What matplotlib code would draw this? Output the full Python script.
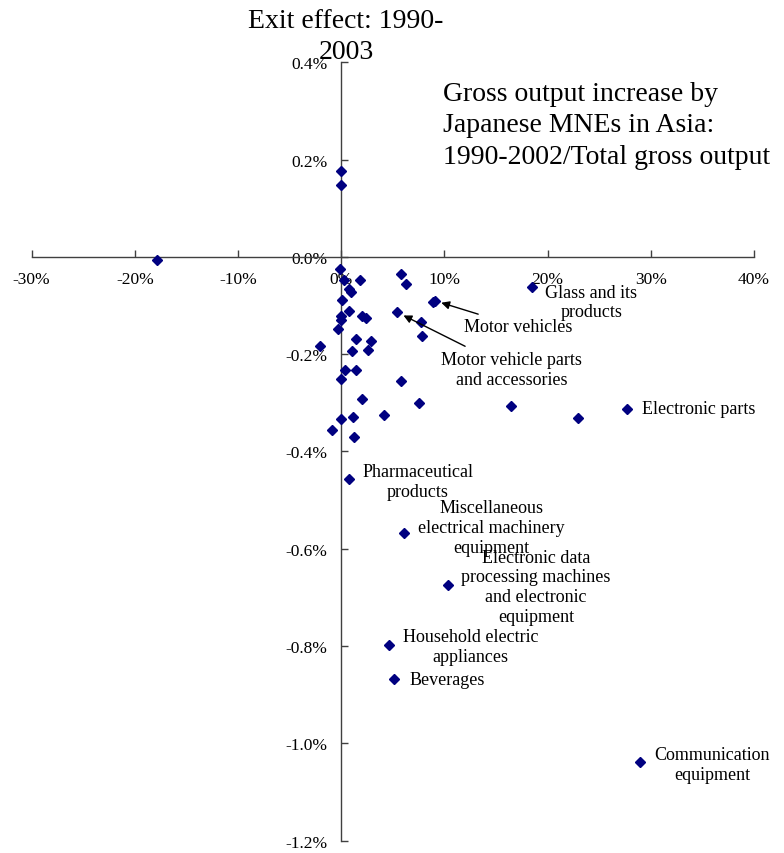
import matplotlib
matplotlib.use('Agg')
import matplotlib.pyplot as plt
import numpy as np

plt.rcParams['font.family'] = ['Liberation Serif', 'DejaVu Serif']
plt.rcParams['axes.unicode_minus'] = False

# unlabelled industries: x = gross output increase by Japanese MNEs in Asia (%), y = exit effect (%)
x_other = [-0.16, 0.25, 1.80, 0.71, 0.93, 0.03, 0.71, 0.0, -0.04, 2.04, 2.36, -0.29,
           1.46, 2.84, -2.04, 1.03, 2.60, 0.35, 1.39, -0.04, 2.04, 4.14, -0.04, 1.13,
           -0.87, 1.26, 5.75, 6.30, 8.86, 7.69, 7.79, 5.75, 7.57, -17.85, 0.0, 0.0,
           16.42, 22.96]
y_other = [-0.025, -0.047, -0.047, -0.067, -0.073, -0.088, -0.111, -0.121, -0.129, -0.121,
           -0.125, -0.148, -0.168, -0.172, -0.184, -0.194, -0.192, -0.233, -0.233, -0.250,
           -0.292, -0.326, -0.333, -0.329, -0.356, -0.370, -0.036, -0.055, -0.092, -0.133,
           -0.163, -0.255, -0.301, -0.007, 0.177, 0.148, -0.306, -0.331]

# labelled industries
labels = ['Glass and its\nproducts', 'Motor vehicles', 'Motor vehicle parts\nand accessories',
          'Electronic parts', 'Pharmaceutical\nproducts',
          'Miscellaneous\nelectrical machinery\nequipment',
          'Electronic data\nprocessing machines\nand electronic\nequipment',
          'Household electric\nappliances', 'Beverages', 'Communication\nequipment']
x_lab = [18.53, 9.05, 5.43, 27.71, 0.71, 6.11, 10.35, 4.59, 5.14, 28.97]
y_lab = [-0.062, -0.090, -0.114, -0.312, -0.457, -0.568, -0.674, -0.797, -0.867, -1.039]

# label placement (pixels from point), alignment, arrow or not
offsets = [(59, -15), (84, -26), (114, -57), (15, 0), (69, -2), (87, 6), (88, -2),
           (82, -2), (15, -1), (72, -2)]
aligns = ['center', 'center', 'center', 'left', 'center', 'center', 'center', 'center',
          'left', 'center']
arrows = [False, True, True, False, False, False, False, False, False, False]

xticks = [-30, -20, -10, 0, 10, 20, 30, 40]
yticks = [-1.2, -1.0, -0.8, -0.6, -0.4, -0.2, 0.0, 0.2, 0.4]

fig = plt.figure(figsize=(7.84, 8.54), dpi=100)
ax = fig.add_axes([0.0404, 0.0144, 0.9213, 0.9115])
ax.set_xlim(-30, 40)
ax.set_ylim(-1.2, 0.4)

for s in ['top', 'right']:
    ax.spines[s].set_visible(False)
ax.spines['left'].set_position(('data', 0))
ax.spines['bottom'].set_position(('data', 0))
for s in ['left', 'bottom']:
    ax.spines[s].set_color('#404040')
    ax.spines[s].set_linewidth(1)

ax.set_xticks(xticks)
ax.set_yticks(yticks)
ax.set_xticklabels([f'{t}%' for t in xticks])
ax.set_yticklabels([f'{t:.1f}%' for t in yticks])
ax.tick_params(direction='in', length=5, width=1, color='#404040', labelsize=12.5, pad=10)

mk = dict(marker='D', ms=5, color='#000080', ls='none', clip_on=False, zorder=3)
ax.plot(x_other, y_other, **mk)
ax.plot(x_lab, y_lab, **mk)

for i in range(len(labels)):
    if arrows[i]:
        ax.annotate(labels[i], (x_lab[i], y_lab[i]), xytext=offsets[i],
                    textcoords='offset pixels', ha=aligns[i], va='center',
                    fontsize=13, linespacing=1.22,
                    arrowprops=dict(arrowstyle='-|>', color='black', lw=1,
                                    mutation_scale=12, shrinkA=3, shrinkB=5))
    else:
        ax.annotate(labels[i], (x_lab[i], y_lab[i]), xytext=offsets[i],
                    textcoords='offset pixels', ha=aligns[i], va='center',
                    fontsize=13, linespacing=1.22)

fig.text(346 / 784, 1 - 37 / 854, 'Exit effect: 1990-\n2003', ha='center', va='center',
         fontsize=20, linespacing=1.35)
fig.text(443 / 784, 1 - 126 / 854,
         'Gross output increase by\nJapanese MNEs in Asia:\n1990-2002/Total gross output',
         ha='left', va='center', fontsize=20, linespacing=1.35)

plt.savefig('out.png', dpi=100)
